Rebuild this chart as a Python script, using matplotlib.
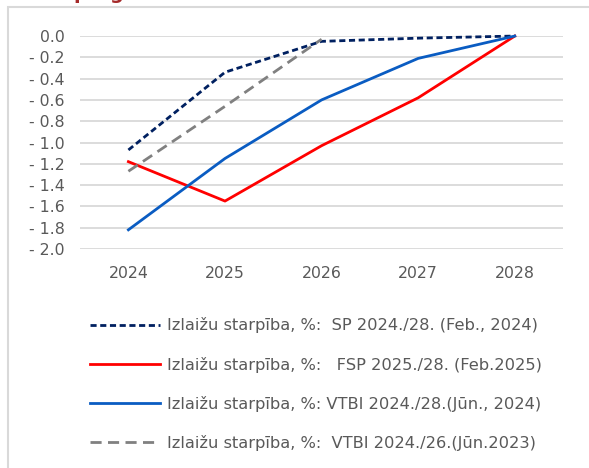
import matplotlib.pyplot as plt
from matplotlib.patches import Rectangle
from matplotlib.ticker import FuncFormatter

years = ["2024", "2025", "2026", "2027", "2028"]
sp_2024 = [-1.07, -0.34, -0.05, -0.02, 0.0]
fsp_2025 = [-1.18, -1.55, -1.03, -0.58, 0.0]
vtbi_2024 = [-1.82, -1.15, -0.60, -0.21, 0.0]
vtbi_2023 = [-1.27, -0.66, -0.03]

labels = [
    "Izlaižu starpība, %:  SP 2024./28. (Feb., 2024)",
    "Izlaižu starpība, %:   FSP 2025./28. (Feb.2025)",
    "Izlaižu starpība, %: VTBI 2024./28.(Jūn., 2024)",
    "Izlaižu starpība, %:  VTBI 2024./26.(Jūn.2023)",
]

fig = plt.figure(figsize=(5.89, 4.68), dpi=100)
ax = fig.add_axes([0.136, 0.468, 0.82, 0.455])

x = list(range(len(years)))
l1, = ax.plot(x, sp_2024, color="#002060", lw=2, ls=(0, (2.2, 1.3)), clip_on=False)
l2, = ax.plot(x, fsp_2025, color="#FF0000", lw=2, clip_on=False)
l3, = ax.plot(x, vtbi_2024, color="#0A5CC2", lw=2, clip_on=False)
l4, = ax.plot(x[:len(vtbi_2023)], vtbi_2023, color="#808080", lw=2, ls=(0, (4, 2.3)), clip_on=False)

ax.set_xlim(-0.5, 4.5)
ax.set_ylim(-2.0, 0.0)
ax.set_xticks(x)
ax.set_xticklabels(years)
ax.set_yticks([-2.0 + 0.2 * i for i in range(11)])
# y labels are written "- 0.2" in the original
ax.yaxis.set_major_formatter(FuncFormatter(lambda v, p: "0.0" if abs(v) < 1e-9 else "- %.1f" % abs(v)))
ax.grid(axis="y", color="#D9D9D9", lw=1.3)
ax.set_axisbelow(True)
for s in ax.spines.values():
    s.set_visible(False)
ax.tick_params(length=0, labelsize=11.3, labelcolor="#595959")
ax.tick_params(axis="y", pad=11)
ax.tick_params(axis="x", pad=12)

fig.legend([l1, l2, l3, l4], labels, loc="upper left", bbox_to_anchor=(0.128, 0.353),
           frameon=False, fontsize=11.7, handlelength=4.3, handletextpad=0.45,
           labelspacing=1.43, labelcolor="#595959")

fig.patches.append(Rectangle((8 / 589, -0.1), 1.1, 1 - 7 / 468 + 0.1, transform=fig.transFigure,
                             fill=False, edgecolor="#D9D9D9", lw=1.5))
fig.text(0.125, 1 + 1 / 468, "prognozes", color="#A52A2A", fontsize=14, fontweight="bold",
         va="baseline", ha="left")

fig.savefig("out.png", dpi=100)
